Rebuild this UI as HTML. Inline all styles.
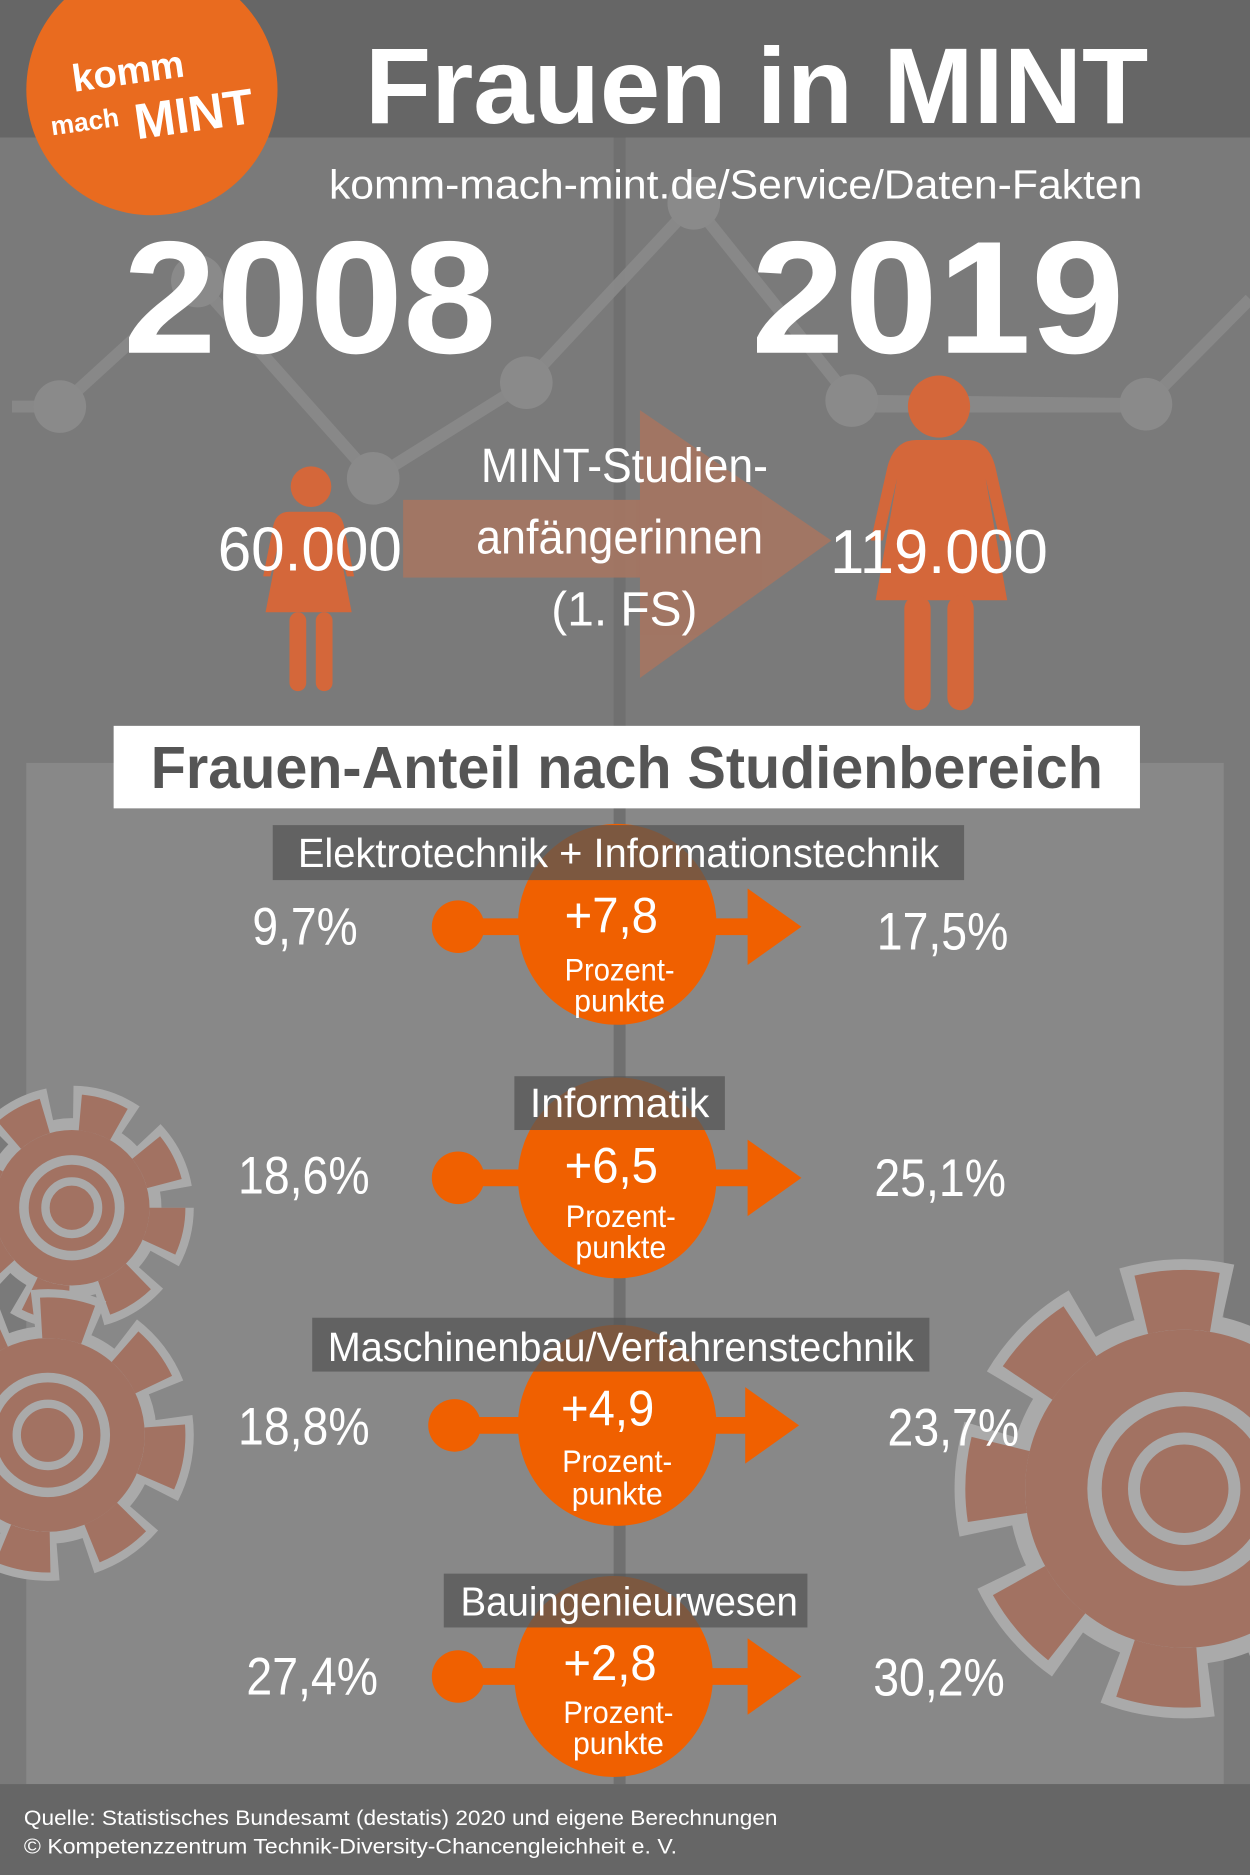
<!DOCTYPE html>
<html><head><meta charset="utf-8"><style>html,body{margin:0;padding:0;background:#7a7a7a}svg{display:block}text{font-family:"Liberation Sans",sans-serif;fill:#fff}</style></head>
<body>
<svg width="1250" height="1875" viewBox="0 0 1045 1568" preserveAspectRatio="none" xmlns="http://www.w3.org/2000/svg">
<rect x="0" y="0" width="1045" height="1568" fill="#7a7a7a"/>
<rect x="0" y="0" width="1045" height="115" fill="#666"/>
<rect x="22" y="638" width="1001" height="854" fill="#888"/>
<rect x="513" y="115" width="10" height="1377" fill="#707070"/>
<g stroke="#8a8a8a" stroke-width="10" fill="none" opacity="0.9">
<polyline points="10,340 50,340 165,235 312,400 440,320 580,170 712,335 958,338 1045,250"/>
<line x1="712" y1="340" x2="958" y2="340"/>
</g>
<g fill="#8a8a8a">
<circle cx="50" cy="340" r="22"/><circle cx="165" cy="235" r="22"/><circle cx="312" cy="400" r="22"/><circle cx="440" cy="320" r="22"/><circle cx="580" cy="170" r="22"/><circle cx="712" cy="335" r="22"/><circle cx="958" cy="338" r="22"/>
</g>
<circle cx="127" cy="75" r="105" fill="#e96b1f"/>
<text x="60" y="70" font-size="32" font-weight="bold" transform="rotate(-8 110 60)">komm</text>
<text x="42" y="108" font-size="22" font-weight="bold" transform="rotate(-8 80 100)">mach</text>
<text x="112" y="110" font-size="42" font-weight="bold" transform="rotate(-8 160 95)" textLength="100" lengthAdjust="spacingAndGlyphs">MINT</text>
<text x="305" y="103" font-size="90" font-weight="bold" textLength="655" lengthAdjust="spacingAndGlyphs">Frauen in MINT</text>
<text x="275" y="166" font-size="34" textLength="680" lengthAdjust="spacingAndGlyphs">komm-mach-mint.de/Service/Daten-Fakten</text>
<text x="103" y="295" font-size="134" font-weight="bold" textLength="312" lengthAdjust="spacingAndGlyphs">2008</text>
<text x="628" y="295" font-size="134" font-weight="bold" textLength="312" lengthAdjust="spacingAndGlyphs">2019</text>
<g fill="#a87560" opacity="0.85"><rect x="337" y="418" width="200" height="65"/><polygon points="535,343 695,452 535,567"/></g>
<g fill="#d4673a">
<circle cx="260" cy="407" r="17"/>
<path d="M246,428 h28 q12,0 14,14 l8,40 h-6 l-8,-32 l12,62 h-72 l12,-62 l-8,32 h-6 l8,-40 q2,-14 14,-14z"/>
<rect x="242" y="512" width="14" height="66" rx="7"/><rect x="264" y="512" width="14" height="66" rx="7"/>
<circle cx="785" cy="340" r="26"/>
<path d="M762,368 h46 q18,0 24,22 l14,62 h-10 l-12,-52 l18,102 h-110 l18,-102 l-12,52 h-10 l14,-62 q6,-22 24,-22z"/>
<rect x="756" y="498" width="22" height="96" rx="11"/><rect x="792" y="498" width="22" height="96" rx="11"/>
</g>
<text x="522" y="403" font-size="40" text-anchor="middle" textLength="240" lengthAdjust="spacingAndGlyphs">MINT-Studien-</text>
<text x="518" y="463" font-size="40" text-anchor="middle" textLength="240" lengthAdjust="spacingAndGlyphs">anfängerinnen</text>
<text x="522" y="523" font-size="40" text-anchor="middle">(1. FS)</text>
<text x="259" y="477" font-size="52" text-anchor="middle" textLength="154" lengthAdjust="spacingAndGlyphs">60.000</text>
<text x="785" y="479" font-size="52" text-anchor="middle" textLength="182" lengthAdjust="spacingAndGlyphs">119.000</text>
<g>
<g transform="translate(60,1010)"><circle r="80" fill="none" stroke="#aaa" stroke-width="44" stroke-dasharray="46 18" stroke-dashoffset="6"/><circle r="70" fill="#a27262" stroke="#aaa" stroke-width="10"/><circle r="80" fill="none" stroke="#a27262" stroke-width="30" stroke-dasharray="34 30"/><circle r="40" fill="none" stroke="#aaa" stroke-width="8"/><circle r="22" fill="none" stroke="#aaa" stroke-width="7"/></g>
<g transform="translate(40,1200)"><circle r="98" fill="none" stroke="#aaa" stroke-width="48" stroke-dasharray="52 24" stroke-dashoffset="6"/><circle r="86" fill="#a27262" stroke="#aaa" stroke-width="10"/><circle r="98" fill="none" stroke="#a27262" stroke-width="34" stroke-dasharray="40 36"/><circle r="48" fill="none" stroke="#aaa" stroke-width="8"/><circle r="26" fill="none" stroke="#aaa" stroke-width="7"/></g>
<g transform="translate(990,1245)"><circle r="158" fill="none" stroke="#aaa" stroke-width="68" stroke-dasharray="80 38" stroke-dashoffset="9"/><circle r="140" fill="#a27262" stroke="#aaa" stroke-width="14"/><circle r="158" fill="none" stroke="#a27262" stroke-width="50" stroke-dasharray="62 56"/><circle r="75" fill="none" stroke="#aaa" stroke-width="12"/><circle r="42" fill="none" stroke="#aaa" stroke-width="10"/></g>
</g>
<rect x="95" y="607" width="858" height="69" fill="#fff"/>
<text x="524" y="659" font-size="50" font-weight="bold" text-anchor="middle" style="fill:#555" textLength="796" lengthAdjust="spacingAndGlyphs">Frauen-Anteil nach Studienbereich</text>
<g>
<g fill="#f06000">
<circle cx="383" cy="775" r="22"/><rect x="383" y="768" width="250" height="14"/><polygon points="625,743 670,775 625,807"/><ellipse cx="516" cy="773" rx="83" ry="84"/>
<circle cx="383" cy="985" r="22"/><rect x="383" y="978" width="250" height="14"/><polygon points="625,953 670,985 625,1017"/><ellipse cx="516" cy="985" rx="83" ry="84"/>
<circle cx="380" cy="1192" r="22"/><rect x="380" y="1185" width="250" height="14"/><polygon points="623,1160 668,1192 623,1224"/><ellipse cx="516" cy="1192" rx="83" ry="84"/>
<circle cx="383" cy="1402" r="22"/><rect x="383" y="1395" width="250" height="14"/><polygon points="625,1370 670,1402 625,1434"/><ellipse cx="513" cy="1402" rx="83" ry="84"/>
</g>
<g fill="#555" opacity="0.75">
<rect x="228" y="690" width="578" height="46"/><rect x="430" y="900" width="176" height="45"/><rect x="261" y="1102" width="516" height="45"/><rect x="371" y="1316" width="304" height="45"/>
</g>
<g font-size="34" text-anchor="middle">
<text x="517" y="725" textLength="536" lengthAdjust="spacingAndGlyphs">Elektrotechnik + Informationstechnik</text>
<text x="518" y="934" textLength="150" lengthAdjust="spacingAndGlyphs">Informatik</text>
<text x="519" y="1138" textLength="490" lengthAdjust="spacingAndGlyphs">Maschinenbau/Verfahrenstechnik</text>
<text x="526" y="1351" textLength="282" lengthAdjust="spacingAndGlyphs">Bauingenieurwesen</text>
</g>
<g font-size="44" text-anchor="middle">
<text x="255" y="790" textLength="88" lengthAdjust="spacingAndGlyphs">9,7%</text>
<text x="788" y="794" textLength="110" lengthAdjust="spacingAndGlyphs">17,5%</text>
<text x="254" y="998" textLength="110" lengthAdjust="spacingAndGlyphs">18,6%</text>
<text x="786" y="1000" textLength="110" lengthAdjust="spacingAndGlyphs">25,1%</text>
<text x="254" y="1208" textLength="110" lengthAdjust="spacingAndGlyphs">18,8%</text>
<text x="797" y="1209" textLength="110" lengthAdjust="spacingAndGlyphs">23,7%</text>
<text x="261" y="1417" textLength="110" lengthAdjust="spacingAndGlyphs">27,4%</text>
<text x="785" y="1418" textLength="110" lengthAdjust="spacingAndGlyphs">30,2%</text>
</g>
<g text-anchor="middle">
<g font-size="42"><text x="511" y="780" textLength="78" lengthAdjust="spacingAndGlyphs">+7,8</text><text x="511" y="989" textLength="78" lengthAdjust="spacingAndGlyphs">+6,5</text><text x="508" y="1192" textLength="78" lengthAdjust="spacingAndGlyphs">+4,9</text><text x="510" y="1405" textLength="78" lengthAdjust="spacingAndGlyphs">+2,8</text></g>
<g font-size="26">
<text x="518" y="820" textLength="92" lengthAdjust="spacingAndGlyphs">Prozent-</text><text x="518" y="846" textLength="76" lengthAdjust="spacingAndGlyphs">punkte</text>
<text x="519" y="1026" textLength="92" lengthAdjust="spacingAndGlyphs">Prozent-</text><text x="519" y="1052" textLength="76" lengthAdjust="spacingAndGlyphs">punkte</text>
<text x="516" y="1231" textLength="92" lengthAdjust="spacingAndGlyphs">Prozent-</text><text x="516" y="1258" textLength="76" lengthAdjust="spacingAndGlyphs">punkte</text>
<text x="517" y="1441" textLength="92" lengthAdjust="spacingAndGlyphs">Prozent-</text><text x="517" y="1467" textLength="76" lengthAdjust="spacingAndGlyphs">punkte</text>
</g></g>
</g>
<rect x="0" y="1492" width="1045" height="76" fill="#666"/>
<text x="20" y="1526" font-size="18" textLength="630" lengthAdjust="spacingAndGlyphs">Quelle: Statistisches Bundesamt (destatis) 2020 und eigene Berechnungen</text>
<text x="20" y="1550" font-size="18" textLength="546" lengthAdjust="spacingAndGlyphs">© Kompetenzzentrum Technik-Diversity-Chancengleichheit e. V.</text>
</svg>
</body></html>
